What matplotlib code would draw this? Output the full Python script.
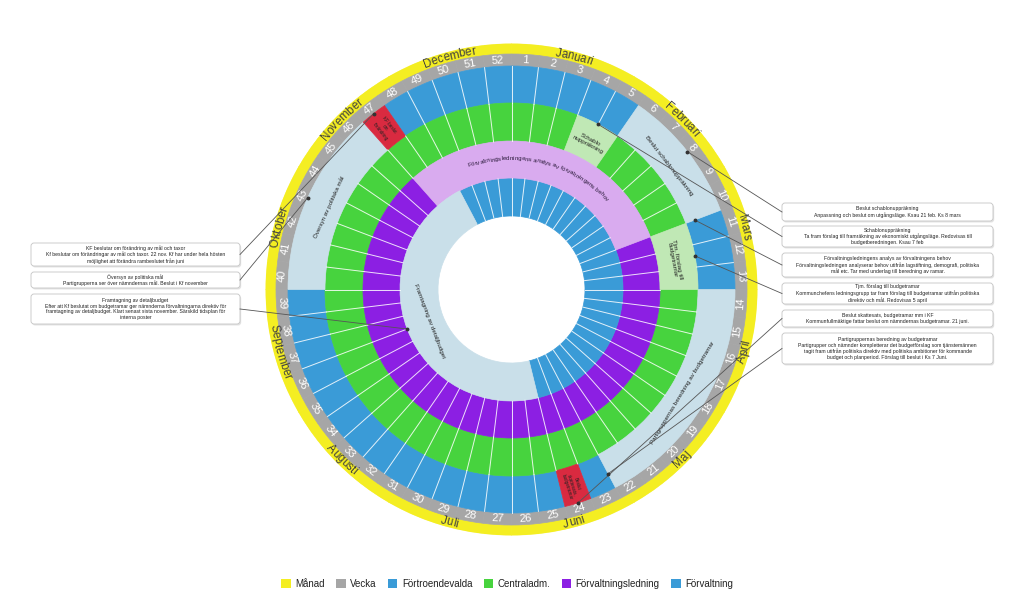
import numpy as np
import matplotlib
matplotlib.use('Agg')
import matplotlib.pyplot as plt
from matplotlib.patches import FancyBboxPatch, Patch
from matplotlib import font_manager, ft2font
from matplotlib.font_manager import FontProperties

plt.rcParams['font.family'] = ['Liberation Sans', 'DejaVu Sans']

W_PX, H_PX, DPI = 1023, 610, 100

# ---------------- data ----------------
weeks = list(range(1, 53))
months = ['Januari', 'Februari', 'Mars', 'April', 'Maj', 'Juni', 'Juli',
          'Augusti', 'September', 'Oktober', 'November', 'December']
legend_labels = ['Månad', 'Vecka', 'Förtroendevalda', 'Centraladm.',
                 'Förvaltningsledning', 'Förvaltning']

# segments per ring: (first week, last week, style, label)
fortroendevalda = [
    (6, 10, 'light', 'Beslut schablonuppräkning'),
    (14, 22, 'light', 'Partigruppernas beredning av budgetramar'),
    (24, 24, 'red', 'Beslut\nskattesats,\nbudgetramar'),
    (40, 46, 'light', 'Översyn av politiska mål'),
    (47, 47, 'red', 'KF beslut\nom\nförändring'),
]
centraladm = [
    (4, 5, 'light', 'Schablo\nnuppräkning'),
    (11, 13, 'light', 'Tjm. förslag till\nbudgetramar'),
]
forvaltningsledning = [
    (47, 10, 'light', 'Förvaltningsledningens analys av förvaltningens behov'),
]
forvaltning = [
    (25, 48, 'light', 'Framtagning av detaljbudget'),
]

note_titles = [
    'Beslut schablonuppräkning',
    'Schablonuppräkning',
    'Förvaltningsledningens analys av förvaltningens behov',
    'Tjm. förslag till budgetramar',
    'Beslut skattesats, budgetramar mm i KF',
    'Partigruppernas beredning av budgetramar',
    'KF beslutar om förändring av mål och taxor',
    'Översyn av politiska mål',
    'Framtagning av detaljbudget',
]
note_bodies = [
    ['Anpassning och beslut om utgångsläge. Ksau 21 feb. Ks 8 mars'],
    ['Ta fram förslag till framräkning av ekonomiskt utgångsläge. Redovisas till',
     'budgetberedningen. Ksau 7 feb'],
    ['Förvaltningsledningen analyserar behov utifrån lagstiftning, demografi, politiska',
     'mål etc. Tar med underlag till beredning av ramar.'],
    ['Kommunchefens ledningsgrupp tar fram förslag till budgetramar utifrån politiska',
     'direktiv och mål. Redovisas 5 april'],
    ['Kommunfullmäktige fattar beslut om nämndernas budgetramar. 21 juni.'],
    ['Partigrupper och nämnder kompletterar det budgetförslag som tjänstemännen',
     'tagit fram utifrån politiska direktiv med politiska ambitioner för kommande',
     'budget och planperiod. Förslag till beslut i Ks 7 Juni.'],
    ['Kf beslutar om förändringar av mål och taxor. 22 nov. Kf har under hela hösten',
     'möjlighet att förändra rambeslutet från juni'],
    ['Partigrupperna ser över nämndernas mål. Beslut i Kf november'],
    ['Efter att Kf beslutat om budgetramar ger nämnderna förvaltningarna direktiv för',
     'framtagning av detaljbudget. Klart senast sista november. Särskild tidsplan för',
     'interna poster'],
]
# which ring segment each note points at: (ring, segment index, anchor, radius)
note_targets = [
    ('A', 0, 'mid', None), ('B', 0, 'mid', None), ('C', 0, 'end', 196),
    ('B', 1, 'mid', None), ('A', 2, 'mid', None), ('A', 1, 'end', 208),
    ('A', 4, 'mid', None), ('A', 3, 'mid', None), ('D', 0, 'mid', None),
]

# ---------------- styling / layout ----------------
YELLOW = '#f4ee22'
GRAY = '#a6a6a6'
BLUE = '#3a9bd7'
GREEN = '#47d33e'
PURPLE = '#8c1fe3'
LIGHT_BLUE = '#c9dfe9'
LIGHT_GREEN = '#c0e8b5'
LIGHT_PURPLE = '#d9abef'
RED = '#d92a40'
legend_colors = [YELLOW, GRAY, BLUE, GREEN, PURPLE, BLUE]

CX, CY, R = 511.5, 289.5, 246.0
R_MONTH = (235.5, 246.0)
R_WEEK = (223.5, 235.5)
rings = {
    'A': dict(r=(186.5, 223.5), color=BLUE, light=LIGHT_BLUE, segs=fortroendevalda),
    'B': dict(r=(148.5, 186.5), color=GREEN, light=LIGHT_GREEN, segs=centraladm),
    'C': dict(r=(111.5, 148.5), color=PURPLE, light=LIGHT_PURPLE, segs=forvaltningsledning),
    'D': dict(r=(73.5, 111.5), color=BLUE, light=LIGHT_BLUE, segs=forvaltning),
}
label_r = {'A': 200, 'B': 166, 'C': 131, 'D': 88}

note_boxes = [  # x0, y0, x1, y1 in pixels (top-left origin)
    (782, 203, 993, 221), (782, 226, 993, 247), (782, 253, 993, 277),
    (782, 283, 993, 304), (782, 310, 993, 327), (782, 333, 993, 364),
    (31, 243, 240, 266), (31, 272, 240, 288), (31, 294, 240, 324),
]

WK = 360.0 / len(weeks)


def seg_span(first, last):
    if last < first:
        last += len(weeks)
    return (first - 1) * WK, last * WK


def tang_rot(deg):
    d = deg % 360
    return -d if (d < 90 or d > 270) else 180 - d


def rad_rot(deg):
    d = deg % 360
    return 90 - d if d < 180 else 270 - d


fig = plt.figure(figsize=(W_PX / DPI, H_PX / DPI), dpi=DPI)
ax = fig.add_axes([(CX - R) / W_PX, (H_PX - CY - R) / H_PX, 2 * R / W_PX, 2 * R / H_PX],
                  projection='polar')
ax.set_theta_zero_location('N')
ax.set_theta_direction(-1)
ax.set_ylim(0, R)
ax.set_axis_off()

font_path = font_manager.findfont(FontProperties(family='Liberation Sans'))


def curved_text(s, center_deg, r, size, color):
    f = ft2font.FT2Font(font_path)
    f.set_size(size, DPI)
    advs = [f.load_char(ord(c)).linearHoriAdvance / 65536.0 for c in s]
    total = sum(advs)
    d = center_deg % 360
    top = d < 90 or d > 270
    cum = 0.0
    for c, a in zip(s, advs):
        off = np.degrees((cum + a / 2 - total / 2) / r)
        deg = center_deg + off if top else center_deg - off
        cum += a
        if c == ' ':
            continue
        ax.text(np.radians(deg), r, c, rotation=tang_rot(deg), rotation_mode='anchor',
                ha='center', va='center', fontsize=size, color=color)


# month ring
for m, name in enumerate(months):
    a0 = m * 30.0
    ax.bar(np.radians(a0 + 15), R_MONTH[1] - R_MONTH[0], width=np.radians(30),
           bottom=R_MONTH[0], color=YELLOW, edgecolor=YELLOW, lw=0.5)
for m, name in enumerate(months):
    curved_text(name, m * 30.0 + 15, 240.8, 8.3, '#404040')

# week ring
for i in weeks:
    c = (i - 0.5) * WK
    ax.bar(np.radians(c), R_WEEK[1] - R_WEEK[0], width=np.radians(WK),
           bottom=R_WEEK[0], color=GRAY, edgecolor=GRAY, lw=0.5)
    ax.text(np.radians(c), 229.6, str(i), rotation=tang_rot(c), rotation_mode='anchor',
            ha='center', va='center', fontsize=8, color='white')

# activity rings
for key, ring in rings.items():
    r0, r1 = ring['r']
    covered = set()
    for first, last, style, label in ring['segs']:
        a0, a1 = seg_span(first, last)
        for k in range(int(round(a0 / WK)), int(round(a1 / WK))):
            covered.add(k % len(weeks) + 1)
        col = RED if style == 'red' else ring['light']
        ax.bar(np.radians((a0 + a1) / 2), r1 - r0, width=np.radians(a1 - a0), bottom=r0,
               color=col, edgecolor=col, lw=0.5, zorder=2)
    for i in weeks:
        if i in covered:
            continue
        c = (i - 0.5) * WK
        ax.bar(np.radians(c), r1 - r0, width=np.radians(WK), bottom=r0,
               color=ring['color'], edgecolor=ring['color'], lw=0.5, zorder=1)
    # white week separators in plain regions
    for k in range(len(weeks)):
        left = k if k > 0 else len(weeks)
        right = k + 1
        if left not in covered and right not in covered:
            th = np.radians(k * WK)
            ax.plot([th, th], [r0, r1], color='white', lw=0.7, alpha=0.85, zorder=3)
    # labels
    for first, last, style, label in ring['segs']:
        a0, a1 = seg_span(first, last)
        c = (a0 + a1) / 2
        if style == 'red':
            ax.text(np.radians(c), (r0 + r1) / 2, label, rotation=rad_rot(c),
                    rotation_mode='anchor', ha='center', va='center', fontsize=3.3,
                    color='#222222', linespacing=1.05, zorder=4)
        elif key == 'C':
            curved_text(label, c, label_r[key], 4.5, '#2a1a3a')
        else:
            ax.text(np.radians(c), label_r[key], label, rotation=tang_rot(c),
                    rotation_mode='anchor', ha='center', va='center', fontsize=4.5,
                    color='#222222', linespacing=1.1, zorder=4)

# overlay in pixel coordinates for notes
ov = fig.add_axes([0, 0, 1, 1])
ov.set_xlim(0, W_PX)
ov.set_ylim(H_PX, 0)
ov.set_axis_off()

for title, body, box, tgt in zip(note_titles, note_bodies, note_boxes, note_targets):
    x0, y0, x1, y1 = box
    ov.add_patch(FancyBboxPatch((x0 + 1.2, y0 + 1.5), x1 - x0, y1 - y0,
                                boxstyle='round,pad=0,rounding_size=3',
                                facecolor='#d8d8d8', edgecolor='none', alpha=0.7, zorder=1))
    ov.add_patch(FancyBboxPatch((x0, y0), x1 - x0, y1 - y0,
                                boxstyle='round,pad=0,rounding_size=3',
                                facecolor='white', edgecolor='#c4c4c4', lw=0.6, zorder=2))
    ov.text((x0 + x1) / 2, (y0 + y1) / 2, '\n'.join([title] + body), ha='center',
            va='center', fontsize=3.7, linespacing=1.2, color='#222222', zorder=3)
    ring_key, idx, anchor, rad = tgt
    seg = rings[ring_key]['segs'][idx]
    a0, a1 = seg_span(seg[0], seg[1])
    if anchor == 'mid':
        th, rr = (a0 + a1) / 2, rings[ring_key]['r'][1]
    else:
        th, rr = a1, rad
    p = ax.transData.transform((np.radians(th), rr))
    px, py = ov.transData.inverted().transform(p)
    ex = x0 if x0 > CX else x1
    ey = (y0 + y1) / 2
    ov.plot([ex, px], [ey, py], color='#555555', lw=0.6, zorder=4)
    ov.plot([px], [py], 'o', ms=1.8, color='#333333', zorder=5)

handles = [Patch(facecolor=c, edgecolor='none') for c in legend_colors]
fig.legend(handles, legend_labels, loc='center', bbox_to_anchor=(507 / W_PX, 1 - 584 / H_PX),
           ncol=6, frameon=False, fontsize=7, handlelength=1.0, handleheight=1.0,
           handletextpad=0.45, columnspacing=1.15, labelcolor='#222222')

fig.savefig('out.png', dpi=DPI)
